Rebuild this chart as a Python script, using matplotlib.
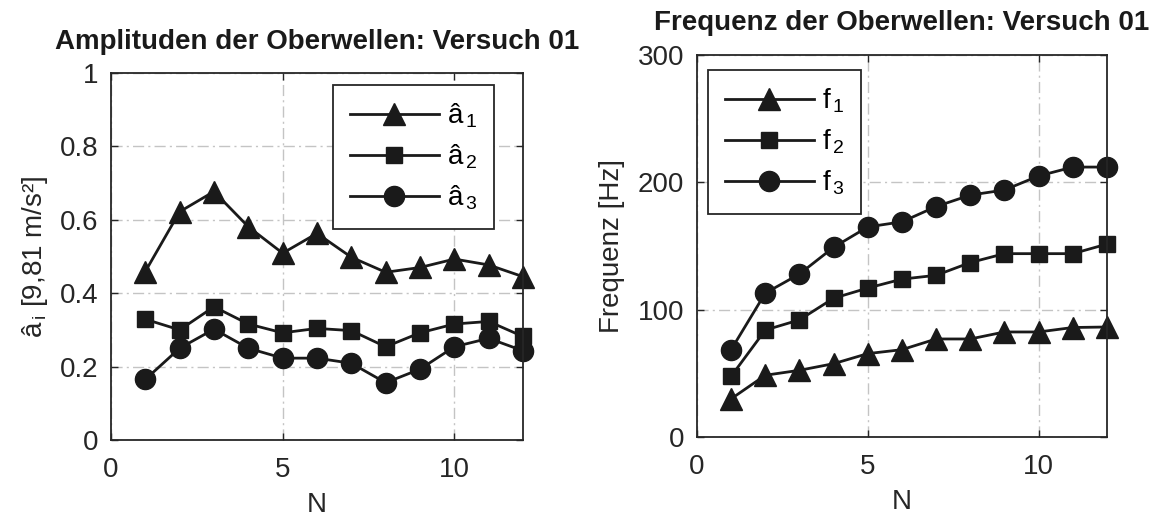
import matplotlib
matplotlib.use("Agg")
import matplotlib.pyplot as plt

plt.rcParams['font.family'] = ['Liberation Sans', 'DejaVu Sans']
plt.rcParams['mathtext.fontset'] = 'custom'
plt.rcParams['mathtext.rm'] = 'Liberation Sans'
plt.rcParams['mathtext.it'] = 'Liberation Sans'
plt.rcParams['mathtext.default'] = 'regular'

N = list(range(1, 13))
a1 = [0.459, 0.622, 0.677, 0.581, 0.509, 0.563, 0.498, 0.457, 0.470, 0.493, 0.477, 0.445]
a2 = [0.329, 0.300, 0.363, 0.316, 0.292, 0.304, 0.298, 0.254, 0.292, 0.316, 0.323, 0.282]
a3 = [0.165, 0.250, 0.302, 0.250, 0.223, 0.223, 0.209, 0.156, 0.193, 0.254, 0.277, 0.243]

f1 = [30, 48.5, 52.4, 57.6, 65.5, 68.6, 77, 77, 82.5, 82.5, 86, 86.4]
f2 = [47.7, 84, 92, 109, 117, 124, 127, 137, 144, 144, 144, 151.5]
f3 = [68.6, 113, 128, 149, 165, 169, 181, 190, 194, 205, 212, 212]

amp_labels = ['â$_{\\,1}$', 'â$_{\\,2}$', 'â$_{\\,3}$']
freq_labels = ['f$_{\\,1}$', 'f$_{\\,2}$', 'f$_{\\,3}$']
markers = ['^', 's', 'o']
msizes = [15.5, 12, 14.5]

FS = 20
TXT = '#262626'

fig = plt.figure(figsize=(11.62, 5.21), dpi=100)
ax1 = fig.add_axes([0.0955, 0.1555, 0.3546, 0.7044])
ax2 = fig.add_axes([0.5998, 0.1612, 0.3528, 0.7332])

def style(ax):
    ax.grid(True, color='#c4c4c4', linestyle=(0, (8, 3, 1.5, 3)), linewidth=1.0)
    ax.set_axisbelow(True)
    ax.tick_params(direction='in', length=5, width=1, labelsize=FS, top=True, right=True,
                   colors=TXT)
    ax.tick_params(axis='x', pad=12)
    ax.tick_params(axis='y', pad=9)
    for s in ax.spines.values():
        s.set_linewidth(1.3)
        s.set_color(TXT)

legkw = dict(fontsize=FS, frameon=True, fancybox=False, edgecolor=TXT, handlelength=3.2,
             borderpad=0.6, labelspacing=0.45, handletextpad=0.3, borderaxespad=0,
             framealpha=1)

for y, lab, m, ms in zip([a1, a2, a3], amp_labels, markers, msizes):
    ax1.plot(N, y, color='#1a1a1a', marker=m, markersize=ms, linewidth=2, label=lab, clip_on=False)
ax1.set_xlim(0, 12)
ax1.set_ylim(0, 1)
ax1.set_xticks([0, 5, 10])
ax1.set_yticks([0, 0.2, 0.4, 0.6, 0.8, 1])
ax1.set_yticklabels(['0', '0.2', '0.4', '0.6', '0.8', '1'])
style(ax1)
ax1.set_xlabel('N', fontsize=FS, color=TXT, labelpad=7)
ax1.set_ylabel('â$_{\\,i}$ [9,81 m/s²]', fontsize=FS, color=TXT, labelpad=7)
ax1.set_title('Amplituden der Oberwellen: Versuch 01', fontsize=20, fontweight='bold', pad=17,
              color='#1a1a1a')
leg1 = ax1.legend(loc='upper right', bbox_to_anchor=(0.93, 0.967), **legkw)
leg1.get_frame().set_linewidth(1.3)

for y, lab, m, ms in zip([f1, f2, f3], freq_labels, markers, msizes):
    ax2.plot(N, y, color='#1a1a1a', marker=m, markersize=ms, linewidth=2, label=lab, clip_on=False)
ax2.set_xlim(0, 12)
ax2.set_ylim(0, 300)
ax2.set_xticks([0, 5, 10])
ax2.set_yticks([0, 100, 200, 300])
style(ax2)
ax2.set_xlabel('N', fontsize=FS, color=TXT, labelpad=7)
ax2.set_ylabel('Frequenz [Hz]', fontsize=FS, color=TXT, labelpad=9)
ax2.set_title('Frequenz der Oberwellen: Versuch 01', fontsize=20, fontweight='bold', pad=18,
              color='#1a1a1a')
leg2 = ax2.legend(loc='upper left', bbox_to_anchor=(0.027, 0.961), **legkw)
leg2.get_frame().set_linewidth(1.3)

fig.savefig('out.png', dpi=100)
